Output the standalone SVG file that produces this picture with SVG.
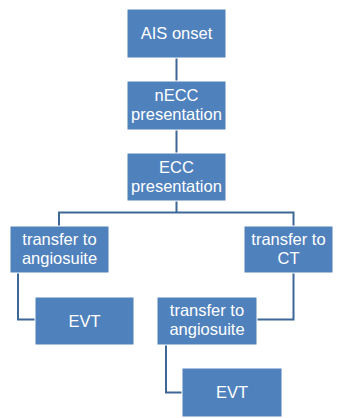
<svg xmlns="http://www.w3.org/2000/svg" width="339" height="418" viewBox="0 0 339 418">
<style>
.box{fill:#4F81BD;stroke:#FFFFFF;stroke-width:1}
.t{fill:#FFFFFF;font-family:"Liberation Sans",Arial,sans-serif;font-size:16.5px;text-anchor:middle}
.c{fill:none;stroke:#3C6797;stroke-width:2}
</style>
<rect width="339" height="418" fill="#FFFFFF"/>
<g id="connectors">
<path class="c" d="M176.5,58 V81"/>
<path class="c" d="M176.5,130 V153"/>
<path class="c" d="M176.5,201 V212.5 M59,226 V212.5 H293.5 V226"/>
<path class="c" d="M18,273 V319.5 H35"/>
<path class="c" d="M293.5,273 V319.5 H257"/>
<path class="c" d="M166,345 V392.5 H182"/>
</g>
<g id="ais"><rect class="box" x="127" y="9" width="99" height="49"/><text class="t" x="176.5" y="39">AIS onset</text></g>
<g id="necc"><rect class="box" x="127" y="81" width="99" height="49"/><text class="t" x="176.5" y="100.5">nECC</text><text class="t" x="176.5" y="119.5">presentation</text></g>
<g id="ecc"><rect class="box" x="127" y="153" width="99" height="48"/><text class="t" x="176.5" y="172.5">ECC</text><text class="t" x="176.5" y="191.5">presentation</text></g>
<g id="transfer-angio-left"><rect class="box" x="10" y="226" width="99" height="47"/><text class="t" x="59.5" y="245">transfer to</text><text class="t" x="59.5" y="264">angiosuite</text></g>
<g id="transfer-ct"><rect class="box" x="244" y="226" width="89" height="47"/><text class="t" x="288.5" y="245">transfer to</text><text class="t" x="288.5" y="264">CT</text></g>
<g id="evt-left"><rect class="box" x="35" y="297" width="99" height="48"/><text class="t" x="84.5" y="327">EVT</text></g>
<g id="transfer-angio-mid"><rect class="box" x="157" y="297" width="100" height="48"/><text class="t" x="207" y="316">transfer to</text><text class="t" x="207" y="335">angiosuite</text></g>
<g id="evt-bottom"><rect class="box" x="182" y="368" width="100" height="49"/><text class="t" x="232" y="398">EVT</text></g>
</svg>
